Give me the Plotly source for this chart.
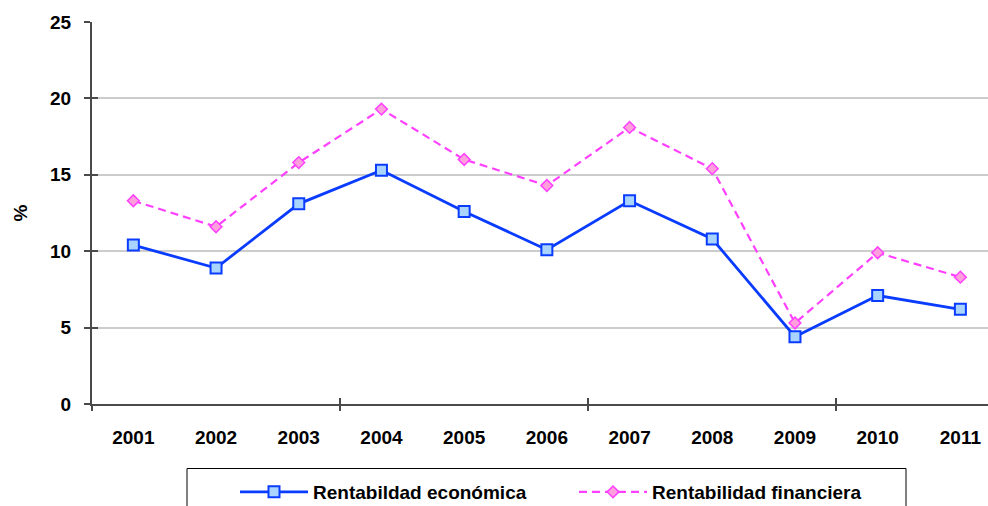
import plotly.graph_objects as go

years = ["2001", "2002", "2003", "2004", "2005", "2006", "2007", "2008", "2009", "2010", "2011"]
economica = [10.4, 8.9, 13.1, 15.3, 12.6, 10.1, 13.3, 10.8, 4.4, 7.1, 6.2]
financiera = [13.3, 11.6, 15.8, 19.3, 16.0, 14.3, 18.1, 15.4, 5.3, 9.9, 8.3]
y_ticks = [0, 5, 10, 15, 20, 25]
x_boundary_ticks = [-0.5, 2.5, 5.5, 8.5]

FONT = "Arial, Liberation Sans, sans-serif"
AXIS_COLOR = "#4a4a4a"
idx = list(range(len(years)))
xr = [-0.5, 10.334]

W, H = 988, 506
PL, PT, PB = 92, 22, 404  # plot left/top/bottom in px
PH = PB - PT


def py(img_y):
    return -(img_y - PB) / PH


def px(img_x):
    return (img_x - PL) / (W - PL)


fig = go.Figure()
fig.add_trace(go.Scatter(
    x=idx, y=economica, name="Rentabildad económica", mode="lines+markers",
    line=dict(color="#0a3cff", width=2.8),
    marker=dict(symbol="square", size=11, color="#a8d4ff", line=dict(color="#0a3cff", width=2)),
))
fig.add_trace(go.Scatter(
    x=idx, y=financiera, name="Rentabilidad financiera", mode="lines+markers",
    line=dict(color="#ff40ff", width=2.2, dash="8px,5px"),
    marker=dict(symbol="diamond", size=9, color="#ffa0dc", line=dict(color="#ff40ff", width=1.5)),
))
# empty helper traces so the overlay axes (tick marks crossing the axis lines) get drawn
for xa, ya in [("x2", "y"), ("x3", "y"), ("x", "y2"), ("x", "y3")]:
    fig.add_trace(go.Scatter(x=[None], y=[None], xaxis=xa, yaxis=ya, showlegend=False, hoverinfo="skip"))

fig.update_layout(
    width=W, height=H,
    margin=dict(l=PL, r=0, t=PT, b=H - PB, autoexpand=False),
    paper_bgcolor="white", plot_bgcolor="white",
    font=dict(family=FONT, size=19, color="black"),
    xaxis=dict(range=xr, tickvals=idx, ticktext=years, ticks="", showgrid=False, zeroline=False,
               showline=True, linecolor=AXIS_COLOR, linewidth=2,
               tickfont=dict(family=FONT, size=19, color="black", weight="bold"),
               ticklabelstandoff=15),
    xaxis2=dict(overlaying="x", anchor="y", side="bottom", range=xr, tickvals=x_boundary_ticks,
                ticks="outside", ticklen=6, tickwidth=1.5, tickcolor=AXIS_COLOR,
                showticklabels=False, showgrid=False, zeroline=False, showline=False),
    xaxis3=dict(overlaying="x", anchor="y", side="bottom", range=xr, tickvals=x_boundary_ticks,
                ticks="inside", ticklen=6, tickwidth=1.5, tickcolor=AXIS_COLOR,
                showticklabels=False, showgrid=False, zeroline=False, showline=False),
    yaxis=dict(range=[0, 25], tickvals=y_ticks, ticks="outside", ticklen=6, tickwidth=1.5,
               tickcolor=AXIS_COLOR, showgrid=True, gridcolor="#cccccc", gridwidth=2,
               zeroline=False, showline=True, linecolor=AXIS_COLOR, linewidth=2,
               tickfont=dict(family=FONT, size=19, color="black", weight="bold"),
               ticklabelstandoff=9,
               title=dict(text="%", font=dict(family=FONT, size=19, color="black", weight="bold"),
                          standoff=17)),
    yaxis2=dict(overlaying="y", anchor="x", range=[0, 25], tickvals=y_ticks, ticks="inside",
                ticklen=6, tickwidth=1.5, tickcolor=AXIS_COLOR, showticklabels=False,
                showgrid=False, zeroline=False, showline=False),
    yaxis3=dict(overlaying="y", anchor="x", range=[0, 25], tickvals=[25], ticks="",
                showticklabels=False, showgrid=True, gridcolor="#999999", gridwidth=2,
                zeroline=False, showline=False),
    showlegend=True,
    legend=dict(orientation="h", x=px(235), xanchor="left",
                y=py(473), yanchor="top",
                font=dict(family=FONT, size=19, color="black", weight="bold"),
                bgcolor="rgba(0,0,0,0)", borderwidth=0,
                itemwidth=68,
                entrywidth=256, entrywidthmode="pixels"),
    shapes=[dict(type="rect", xref="paper", yref="paper",
                 x0=px(187), x1=px(906),
                 y0=py(530), y1=py(468.5),
                 line=dict(color="black", width=1), fillcolor="rgba(0,0,0,0)", layer="below")],
)

fig.write_html(
    "out.html",
    config={"displayModeBar": False},
    post_script=("document.documentElement.style.overflow='hidden';"
                 "document.body.style.margin='0';document.body.style.overflow='hidden';"),
)
